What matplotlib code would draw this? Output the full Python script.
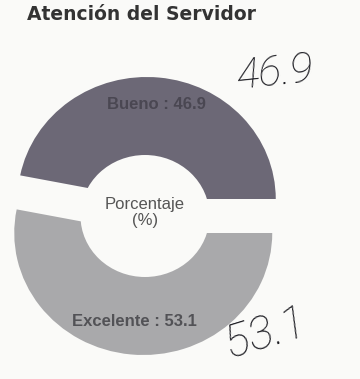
import numpy as np
import matplotlib
matplotlib.use("Agg")
import matplotlib.pyplot as plt
from matplotlib.patches import Ellipse

# Survey result: service rating of the staff
title = "Atención del Servidor"
categories = ["Bueno", "Excelente"]
values = [46.9, 53.1]
center_label = "Porcentaje\n(%)"
handwritten = ["46.9", "53.1"]

bg = "#fafaf8"
wedge_colors = ["#6c6876", "#a9a9ab"]
label_colors = ["#4a4752", "#525256"]

fig = plt.figure(figsize=(3.6, 3.79), dpi=100, facecolor=bg)
ax = fig.add_axes([0, 0, 1, 1])
ax.set_facecolor(bg)

explode = [0.14, 0.14]
wedges, _ = ax.pie(values, colors=wedge_colors, startangle=0, counterclock=True,
                   explode=explode, radius=1.0,
                   wedgeprops=dict(linewidth=0))

# pixel mapping: centre near (145, 216), slightly squashed vertically
ax.set_aspect("auto")
ax.set_xlim(-145 / 129, (360 - 145) / 129)
ax.set_ylim((216 - 379) / 122, 216 / 122)
ax.axis("off")

# donut hole
ax.add_patch(Ellipse((0, 0), 1.0, 1.0, facecolor=bg, edgecolor="none", zorder=3))
ax.text(0.0, 0.03, center_label, ha="center", va="center", fontsize=12,
        family="Liberation Sans", color="#555555", linespacing=1.05, zorder=4)

# slice labels along each wedge bisector
label_r = [0.78, 0.73]
for w, cat, val, r, col in zip(wedges, categories, values, label_r, label_colors):
    mid = np.deg2rad((w.theta1 + w.theta2) / 2)
    cx, cy = w.center
    ax.text(cx + r * np.cos(mid), cy + r * np.sin(mid), f"{cat} : {val}",
            ha="center", va="center", fontsize=12, fontweight="bold",
            family="Liberation Sans", color=col, zorder=4)

# hand-written values next to the chart
hand_font = dict(family=["Roboto", "DejaVu Sans"], style="italic",
                 fontweight="light", color="#1e1e24", zorder=5)
ax.text(0.69, 1.17, handwritten[0], ha="left", va="center", fontsize=31,
        rotation=6, **hand_font)
ax.text(0.58, -0.96, handwritten[1], ha="left", va="center", fontsize=33,
        rotation=17, **hand_font)

fig.text(27 / 360, 1 - 14 / 379, title, ha="left", va="center", fontsize=13.5,
         fontweight="bold", family="DejaVu Sans", color="#333333")

fig.savefig("out.png", dpi=100, facecolor=bg)
